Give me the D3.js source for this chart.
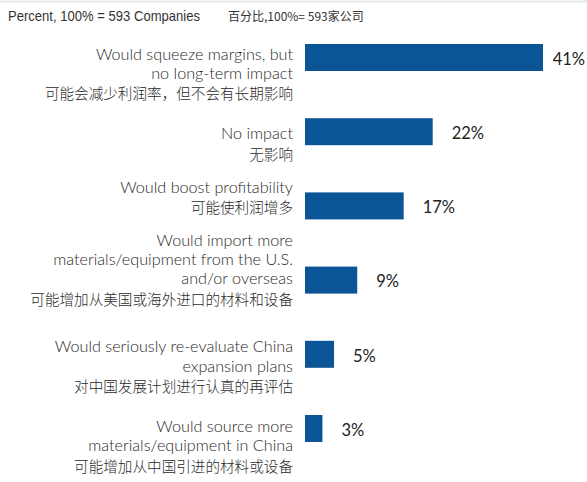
<!DOCTYPE html>
<html>
<head>
<meta charset="utf-8">
<script src="https://cdn.jsdelivr.net/npm/d3@7"></script>
<style>
  html, body { margin: 0; padding: 0; background: #fff; }
  svg { display: block; }
</style>
</head>
<body>
<svg id="chart" width="587" height="482"></svg>
<script>
// ---- Data ----
const headerEn = "Percent, 100% = 593 Companies";
const headerZh = "百分比,100%= 593家公司";
const labelsEn = [
  ["Would squeeze margins, but", "no long-term impact"],
  ["No impact"],
  ["Would boost profitability"],
  ["Would import more", "materials/equipment from the U.S.", "and/or overseas"],
  ["Would seriously re-evaluate China", "expansion plans"],
  ["Would source more", "materials/equipment in China"]
];
const labelsZh = [
  "可能会减少利润率，但不会有长期影响",
  "无影响",
  "可能使利润增多",
  "可能增加从美国或海外进口的材料和设备",
  "对中国发展计划进行认真的再评估",
  "可能增加从中国引进的材料或设备"
];
const values = [41, 22, 17, 9, 5, 3];

// ---- Layout ----
const W = 587, H = 482;
const svg = d3.select("#chart");
const barColor = "#0b5596";
const textColor = "#2a2a2a";
const enFont = "Lato, 'Open Sans', sans-serif";
const zhFont = "'Noto Sans CJK SC', sans-serif";

// top hairline
svg.append("line")
  .attr("x1", 0).attr("x2", W).attr("y1", 1.5).attr("y2", 1.5)
  .attr("stroke", "#e4e9f0").attr("stroke-width", 2);

// header
svg.append("text")
  .attr("x", 8).attr("y", 21)
  .attr("font-family", "'Liberation Sans', Arial, sans-serif")
  .attr("font-size", 15)
  .attr("textLength", 192)
  .attr("lengthAdjust", "spacingAndGlyphs")
  .attr("fill", "#333")
  .text(headerEn);
svg.append("text")
  .attr("x", 228).attr("y", 21)
  .attr("font-family", zhFont)
  .attr("font-size", 12)
  .attr("fill", "#333")
  .text(headerZh);

const idx = d3.range(values.length);

const x = d3.scaleLinear().domain([0, 41]).range([305, 543]);
const y = d3.scaleBand().domain(idx).range([44, 442]).paddingInner(0.636).paddingOuter(0);

// text flow: blocks stacked by line count
const lineCounts = idx.map(i => labelsEn[i].length + 1);
const cum = [0];
lineCounts.forEach((c, i) => cum.push(cum[i] + c));
const yFlow = d3.scaleLinear().domain([0, 1]).range([54, 80.6]);
const lineGap = 19.3;
const zhGap = 21;

const labelRight = 293;

const rows = svg.append("g").selectAll("g").data(idx).join("g");

rows.each(function(i) {
  const g = d3.select(this);
  const top = yFlow(cum[i]);
  labelsEn[i].forEach((ln, j) => {
    g.append("text")
      .attr("x", labelRight)
      .attr("y", top + j * lineGap)
      .attr("dy", "0.35em")
      .attr("text-anchor", "end")
      .attr("font-family", enFont)
      .attr("font-weight", 300)
      .attr("font-size", 16.2)
      .attr("fill", textColor)
      .text(ln);
  });
  g.append("text")
    .attr("x", labelRight)
    .attr("y", top + (labelsEn[i].length - 1) * lineGap + zhGap)
    .attr("dy", "0.35em")
    .attr("text-anchor", "end")
    .attr("font-family", zhFont)
    .attr("font-weight", 300)
    .attr("font-size", 14.6)
    .attr("fill", textColor)
    .text(labelsZh[i]);
});

// bars
svg.append("g").selectAll("rect").data(idx).join("rect")
  .attr("x", x(0))
  .attr("y", i => y(i))
  .attr("width", i => x(values[i]) - x(0))
  .attr("height", y.bandwidth())
  .attr("fill", barColor);

// value labels
const vl = svg.append("g").selectAll("text").data(idx).join("text")
  .attr("y", i => y(i) + y.bandwidth() / 2 + 1.5)
  .attr("dy", "0.35em")
  .attr("font-family", enFont)
  .attr("font-weight", 400)
  .attr("font-size", 16.5)
  .attr("fill", "#222")
  .text(i => values[i] + "%");
vl.attr("x", function(i) {
  const w = this.getComputedTextLength();
  return Math.min(x(values[i]) + 19, W - 2 - w);
});
</script>
</body>
</html>
